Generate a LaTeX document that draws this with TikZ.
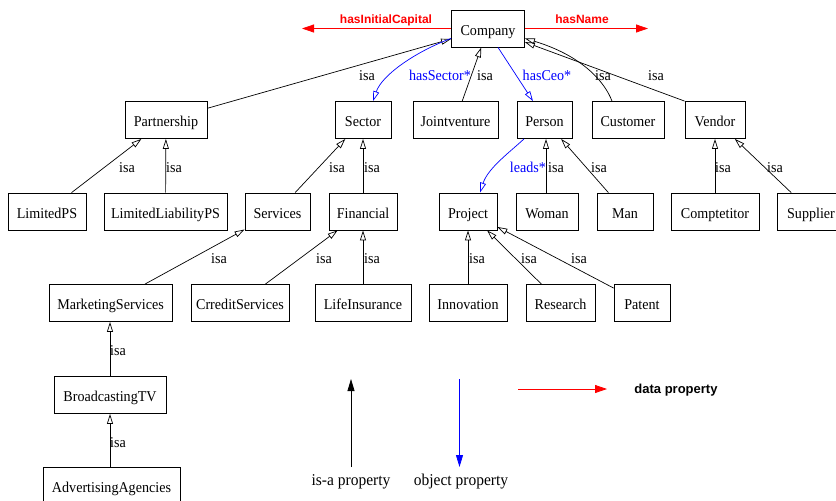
\documentclass[tikz,border=0pt]{standalone}
\usepackage{fontspec}
\setmainfont{Liberation Serif}[FakeStretch=0.94]
\newfontfamily\labelsans{Liberation Sans}
\usetikzlibrary{arrows.meta}

\begin{document}
\begin{tikzpicture}[x=1pt,y=-1pt,
  cls/.style={draw, line width=0.8pt, rectangle, minimum height=37pt,
    inner sep=0pt, text height=16pt, text depth=3pt,
    font=\fontsize{15}{17}\selectfont},
  tag/.style={inner sep=0pt, anchor=base, font=\fontsize{15}{17}\selectfont},
  objtag/.style={tag, text=blue},
  datatag/.style={inner sep=0pt, anchor=base, text=red,
    font=\labelsans\bfseries\fontsize{12}{14}\selectfont},
  isa/.style={draw, line width=0.7pt,
    -{Triangle[open,length=10pt,width=6pt]}},
  objp/.style={draw=blue, line width=0.7pt,
    -{Triangle[open,length=10pt,width=6pt]}},
  datap/.style={draw=red, line width=0.8pt,
    -{Triangle[length=12pt,width=8pt]}},
  legisa/.style={draw, line width=0.8pt, -{Triangle[length=12pt,width=7pt]}},
  legobj/.style={draw=blue, line width=0.8pt, -{Triangle[length=12pt,width=7pt]}},
  legtext/.style={inner sep=0pt, anchor=base, font=\fontsize{16.5}{19}\selectfont},
]
\useasboundingbox (0,0) rectangle (836,501);
\fill[white] (0,0) rectangle (836,501);
\clip (0,0) rectangle (836,501);

% classes
\node[cls, minimum width=73pt]  (company)     at (488,28.5)   {Company};
\node[cls, minimum width=82pt]  (partnership) at (166,120)    {Partnership};
\node[cls, minimum width=56pt]  (sector)      at (363,120)    {Sector};
\node[cls, minimum width=85pt]  (jointventure) at (455.5,120) {Jointventure};
\node[cls, minimum width=55pt]  (person)      at (544.5,120)  {Person};
\node[cls, minimum width=72pt]  (customer)    at (628,120)    {Customer};
\node[cls, minimum width=60pt]  (vendor)      at (715,120)    {Vendor};

\node[cls, minimum width=78pt]  (limitedps)   at (47,211.5)   {LimitedPS};
\node[cls, minimum width=123pt] (limitedlps)  at (165.5,211.5) {LimitedLiabilityPS};
\node[cls, minimum width=65pt]  (services)    at (277.5,211.5) {Services};
\node[cls, minimum width=68pt]  (financial)   at (363,211.5)  {Financial};
\node[cls, minimum width=58pt]  (project)     at (468,211.5)  {Project};
\node[cls, minimum width=62pt]  (woman)       at (547,211.5)  {Woman};
\node[cls, minimum width=56pt]  (man)         at (625,211.5)  {Man};
\node[cls, minimum width=88pt]  (comptetitor) at (715,211.5)  {Comptetitor};
\node[cls, minimum width=68pt]  (supplier)    at (811,211.5)  {Supplier};

\node[cls, minimum width=123pt] (marketing)   at (110.5,303)  {MarketingServices};
\node[cls, minimum width=98pt]  (credit)      at (240,303)    {CrreditServices};
\node[cls, minimum width=96pt]  (life)        at (363,303)    {LifeInsurance};
\node[cls, minimum width=78pt]  (innovation)  at (468,303)    {Innovation};
\node[cls, minimum width=69pt]  (research)    at (560.5,303)  {Research};
\node[cls, minimum width=56pt]  (patent)      at (642,303)    {Patent};

\node[cls, minimum width=112pt] (broadcast)   at (110,395)    {BroadcastingTV};
\node[cls, minimum width=137pt] (advertising) at (111.5,486)  {AdvertisingAgencies};

% data properties of Company
\coordinate (capend) at (302,28.5);
\coordinate (nameend) at (648,28.5);
\draw[datap] (company.west) -- (capend);
\draw[datap] (company.east) -- (nameend);
\node[datatag] (capital) at (386,23) {hasInitialCapital};
\node[datatag] (hasname) at (582,23) {hasName};

% subclass links to Company
\draw[isa] (partnership) -- (company);
\draw[isa] (jointventure) -- (company);
\draw[isa] ([xshift=-16pt]customer.north) .. controls (604,80) and (580,55) .. (company.-15);
\draw[isa] (vendor.north west) -- (company);
\node[tag] (t1) at (367,80) {isa};
\node[tag] (t2) at (485,80) {isa};
\node[tag] (t3) at (603,80) {isa};
\node[tag] (t4) at (656,80) {isa};

% object properties
\draw[objp] (company.195) .. controls (415,52) and (382,75) .. ([xshift=10pt]sector.north);
\draw[objp] ([xshift=10pt]company.south) -- ([xshift=-11.5pt]person.north);
\draw[objp] ([xshift=-20.5pt]person.south) .. controls (510,152) and (488,168) .. ([xshift=12pt]project.north);
\node[objtag] (o1) at (440,80) {hasSector*};
\node[objtag] (o2) at (547,80) {hasCeo*};
\node[objtag] (o3) at (528,172) {leads*};

% second level
\draw[isa] (limitedps) -- (partnership);
\draw[isa] (limitedlps) -- (partnership);
\draw[isa] (services) -- (sector);
\draw[isa] (financial) -- (sector);
\draw[isa] ([xshift=-1pt]woman.north) -- ([xshift=1.5pt]person.south);
\draw[isa] (man) -- (person);
\draw[isa] (comptetitor) -- (vendor);
\draw[isa] (supplier) -- (vendor);
\node[tag] (t5)  at (127,172) {isa};
\node[tag] (t6)  at (174,172) {isa};
\node[tag] (t7)  at (337,172) {isa};
\node[tag] (t8)  at (372,172) {isa};
\node[tag] (t9)  at (556,172) {isa};
\node[tag] (t10) at (599,172) {isa};
\node[tag] (t11) at (723,172) {isa};
\node[tag] (t12) at (775,172) {isa};

% third level
\draw[isa] (marketing) -- (services);
\draw[isa] (credit) -- (financial);
\draw[isa] (life) -- (financial);
\draw[isa] (innovation) -- (project);
\draw[isa] (research) -- (project);
\draw[isa] (patent) -- (project);
\node[tag] (t13) at (219,263) {isa};
\node[tag] (t14) at (324,263) {isa};
\node[tag] (t15) at (372,263) {isa};
\node[tag] (t16) at (477,263) {isa};
\node[tag] (t17) at (529,263) {isa};
\node[tag] (t18) at (579,263) {isa};

% marketing chain
\draw[isa] (broadcast) -- (marketing.south -| broadcast);
\draw[isa] (advertising.north -| broadcast) -- (broadcast);
\node[tag] (t19) at (118,355) {isa};
\node[tag] (t20) at (118,447) {isa};

% legend
\coordinate (isalow) at (351,467);
\coordinate (isahigh) at (351,379);
\coordinate (objhigh) at (459.5,379);
\coordinate (objlow) at (459.5,467);
\coordinate (dataleft) at (518,389);
\coordinate (dataright) at (607,389);
\draw[legisa] (isalow) -- (isahigh);
\draw[legobj] (objhigh) -- (objlow);
\draw[datap] (dataleft) -- (dataright);
\node[legtext] (lisa) at (351,485) {is-a property};
\node[legtext] (lobj) at (461,485) {object property};
\node[inner sep=0pt, anchor=base, font=\labelsans\bfseries\fontsize{13}{15}\selectfont]
  (ldata) at (676,393) {data property};
\end{tikzpicture}
\end{document}
